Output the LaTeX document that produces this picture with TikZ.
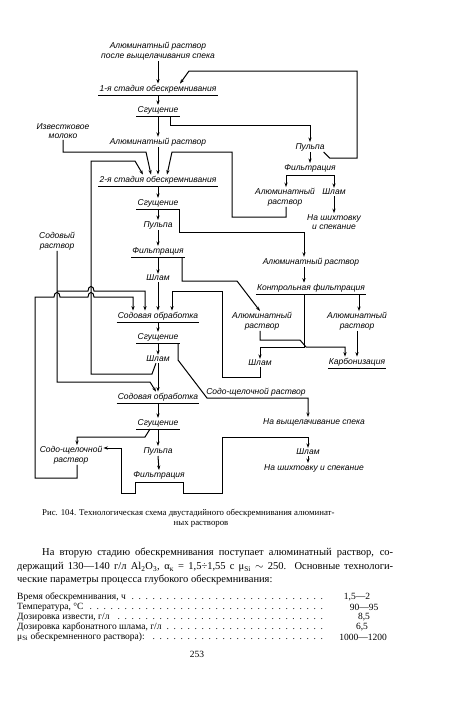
\documentclass[tikz,border=0pt]{standalone}
\usepackage{fontspec}
\setmainfont{Liberation Serif}
\newfontfamily\lab{Liberation Sans}
\usetikzlibrary{arrows.meta}
\begin{document}
\begin{tikzpicture}[x=1pt,y=-1pt,
  lbl/.style={font=\lab\itshape\fontsize{8.5}{9.5}\selectfont, inner sep=1pt, align=center},
  proc/.style={lbl, anchor=south, inner ysep=1.5pt},
  ln/.style={line width=1pt},
  arr/.style={ln, -{Stealth[length=4.5pt,width=3.2pt]}},
  uline/.style={line width=1pt},
  txt/.style={inner sep=0pt, anchor=west},
]
\useasboundingbox (0,0) rectangle (450,702);
\fill[white] (0,0) rectangle (450,702);

% ---------- nodes ----------
\node[lbl] (top) at (158,51) {Алюминатный раствор\\после выщелачивания спека};
\node[proc, minimum width=115pt] (st1) at (158,95) {1-я стадия обескремнивания};
\node[proc, minimum width=40pt] (sg1) at (158,116) {Сгущение};
\node[lbl] (ar1) at (158,142) {Алюминатный раствор};
\node[lbl] (izv) at (63,131) {Известковое\\молоко};
\node[lbl] (pul1) at (310,147) {Пульпа};
\node[lbl] (fil1) at (310,168) {Фильтрация};
\node[lbl] (ar2) at (285,197) {Алюминатный\\раствор};
\node[lbl] (shl1) at (334,192) {Шлам};
\node[lbl] (nash1) at (334,222) {На шихтовку\\и спекание};
\node[proc, minimum width=115pt] (st2) at (158,186) {2-я стадия обескремнивания};
\node[proc, minimum width=40pt] (sg2) at (158,209) {Сгущение};
\node[lbl] (pul2) at (158,225) {Пульпа};
\node[proc, minimum width=48pt] (fil2) at (158,257) {Фильтрация};
\node[lbl] (shl2) at (158,278) {Шлам};
\node[lbl] (sodr) at (57,241) {Содовый\\раствор};
\node[lbl] (ar3) at (311,262) {Алюминатный раствор};
\node[proc, minimum width=103pt] (kf) at (311,294) {Контрольная фильтрация};
\node[lbl] (ar4) at (262,321) {Алюминатный\\раствор};
\node[lbl] (ar5) at (357,321) {Алюминатный\\раствор};
\node[proc, minimum width=75pt] (so1) at (158,322) {Содовая обработка};
\node[proc, minimum width=39pt] (sg3) at (158,343) {Сгущение};
\node[lbl] (shl3) at (158,359) {Шлам};
\node[lbl] (shl4) at (260,363) {Шлам};
\node[proc] (karb) at (357,368) {Карбонизация};
\node[proc, minimum width=75pt] (so2) at (158,403) {Содовая обработка};
\node[lbl] (srr) at (256,392) {Содо-щелочной раствор};
\node[lbl] (nav) at (314,422) {На выщелачивание спека};
\node[proc, minimum width=39pt] (sg4) at (158,429) {Сгущение};
\node[lbl] (srl) at (71,455) {Содо-щелочной\\раствор};
\node[lbl] (pul3) at (158,451) {Пульпа};
\node[lbl] (fil3) at (159,475) {Фильтрация};
\node[lbl] (shl5) at (308,452) {Шлам};
\node[lbl] (nash2) at (314,468) {На шихтовку и спекание};

\foreach \n in {st1,sg1,st2,sg2,fil2,kf,so1,sg3,karb,so2,sg4}
  \draw[uline] (\n.south west) -- (\n.south east);

% ---------- central column ----------
\draw[arr] (top.south) -- (st1.north);
\draw[arr] (st1.south) -- (sg1.north);
\draw[arr] (sg1.south) -- (ar1.north);
\draw[arr] (ar1.south) -- (st2.north);
\draw[arr] (st2.south) -- (sg2.north);
\draw[arr] (sg2.south) -- (pul2.north);
\draw[arr] (pul2.south) -- (fil2.north);
\draw[arr] (fil2.south) -- (shl2.north);
\draw[arr] (shl2.south) -- (so1.north);
\draw[arr] (so1.south) -- (sg3.north);
\draw[arr] (sg3.south) -- (shl3.north);
\draw[arr] (shl3.south) -- (so2.north);
\draw[arr] (so2.south) -- (sg4.north);
\draw[arr] (sg4.south) -- (pul3.north);
\draw[arr] (pul3.south) -- (fil3.north);

% ---------- first stage loop ----------
\draw[arr] ([xshift=12pt]sg1.south) -- ++(0,9) -| (pul1.north);
\draw[arr] ([xshift=-2pt]pul1.south east) -- ++(6,6) -| (357,71) -- (189,71) -- ([xshift=22pt]st1.north);
\draw[arr] (pul1.south) -- (fil1.north);
\coordinate (f1a) at (286,175);
\coordinate (f1b) at (334,175);
\draw[ln] (f1a) -- (f1b);
\draw[arr] (f1a) -- (f1a |- ar2.north);
\draw[arr] (f1b) -- (shl1.north);
\draw[arr] (shl1.south) -- (nash1.north);
\draw[arr] (ar2.south -| f1a) |- (232,217) |- (172,152) -- ([xshift=9pt]st2.north);
\draw[arr] (izv.south) |- (146,152) -- ([xshift=-7pt]st2.north);
\draw[arr] ([xshift=-2pt]shl3.south) -- (152,374) -| (91,161) -- (135,161) -- ([xshift=-15pt]st2.north);

% ---------- second stage ----------
\draw[arr] ([xshift=21pt]sg2.south) -- ++(0,23) -| ([xshift=-7pt]ar3.north);
\draw[arr] ([xshift=24pt]fil2.south) -- ++(0,24) -- (237,281) -- ([xshift=-2pt]ar4.north);
\draw[arr] ([xshift=-7pt]ar3.south) -- ([xshift=-7pt]kf.north);
\draw[arr] ([xshift=2pt]ar5.north |- kf.south) -- ([xshift=2pt]ar5.north);
\draw[arr] ([xshift=-7pt]kf.south) -- (304,347) -| (shl4.north);
\draw[arr] ([xshift=-2pt]ar4.south) |- (300,340) -- (306,347) -| ([xshift=-12pt]karb.north);
\draw[arr] (ar5.south) -- (karb.north);
\draw[arr] (shl4.south) -- ++(0,10) -| (222,291) -| ([xshift=14pt]so1.north);

% ---------- soda solution ----------
\draw[arr] (sodr.south) -- (57,382) -- (150,382) -- ([xshift=-2pt]so2.north);
\draw[arr] (57,291) -- (88,291) .. controls (88,285) and (94,285) .. (94,291)
  -- (145,291) -- ([xshift=-13pt]so1.north);
\draw[arr] ([xshift=6pt]srl.south) |- (35,478) -- (35,297) -- (54,297)
  .. controls (54,291) and (60,291) .. (60,297) -- (88,297)
  .. controls (88,291) and (94,291) .. (94,297) -- (133,297) -- ([xshift=-25pt]so1.north);

% ---------- soda treatment ----------
\draw[arr] ([xshift=20pt]sg3.south) -- ++(0,17) -- (207,398) -- (308,398) -- ([xshift=-6pt]nav.north);
\draw[arr] ([xshift=-8pt]sg4.south) -- (145,437) -| ([xshift=6pt]srl.north);
\coordinate (f3a) at (135,482);
\coordinate (f3b) at (183,482);
\draw[ln] (f3a) -- (f3b);
\draw[arr] (f3a) -- ++(0,11) -| (121,448) -- ([yshift=7pt]srl.east);
\draw[arr] (f3b) -- ++(0,11) -| (222,437) -| (shl5.north);
\draw[arr] (shl5.south) -- ([xshift=-6pt]nash2.north);

% ---------- caption and text ----------
\node[txt, font=\fontsize{8.8}{10}\selectfont] (cap1) at (42,513)
  {Рис. 104. Технологическая схема двустадийного обескремнивания алюминат-};
\node[font=\fontsize{8.8}{10}\selectfont, inner sep=0pt] (cap2) at (201,524) {ных растворов};
\node[txt, font=\fontsize{10.5}{12}\selectfont] (p1) at (42,553)
  {\makebox[351pt][s]{На вторую стадию обескремнивания поступает алюминатный раствор, со-}};
\node[txt, font=\fontsize{10.5}{12}\selectfont] (p2) at (17,567)
  {\makebox[376pt][s]{держащий 130—140 г/л Al\textsubscript{2}O\textsubscript{3}, α\textsubscript{к} = 1,5÷1,55 с μ\textsubscript{Si} $\sim$ 250. Основные технологи-}};
\node[txt, font=\fontsize{10.5}{12}\selectfont] (p3) at (17,580)
  {ческие параметры процесса глубокого обескремнивания:};

\newcommand{\dotrow}[1]{\hbox to 314pt{#1\leaders\hbox to 7pt{\hss.\hss}\hfill}}
\node[txt, font=\fontsize{9.5}{10}\selectfont] (t1) at (17,597) {\dotrow{Время обескремнивания, ч}};
\node[txt, font=\fontsize{9.5}{10}\selectfont] (t2) at (17,607) {\dotrow{Температура, °С}};
\node[txt, font=\fontsize{9.5}{10}\selectfont] (t3) at (17,617) {\dotrow{Дозировка извести, г/л}};
\node[txt, font=\fontsize{9.5}{10}\selectfont] (t4) at (17,627) {\dotrow{Дозировка карбонатного шлама, г/л}};
\node[txt, font=\fontsize{9.5}{10}\selectfont] (t5) at (17,637) {\dotrow{μ\textsubscript{Si} обескремненного раствора):}};
\node[font=\fontsize{9.5}{10}\selectfont, inner sep=0pt] (v1) at (357,597) {1,5—2};
\node[font=\fontsize{9.5}{10}\selectfont, inner sep=0pt] (v2) at (364,607) {90—95};
\node[font=\fontsize{9.5}{10}\selectfont, inner sep=0pt] (v3) at (364,617) {8,5};
\node[font=\fontsize{9.5}{10}\selectfont, inner sep=0pt] (v4) at (362,627) {6,5};
\node[font=\fontsize{9.5}{10}\selectfont, inner sep=0pt] (v5) at (363,637) {1000—1200};
\node[font=\fontsize{9.5}{10}\selectfont, inner sep=0pt] (pg) at (197,654) {253};
\end{tikzpicture}
\end{document}
